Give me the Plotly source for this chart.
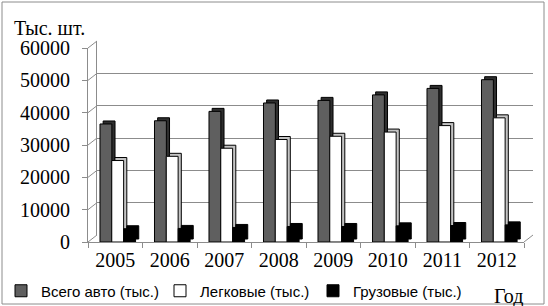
import plotly.graph_objects as go

years = ["2005", "2006", "2007", "2008", "2009", "2010", "2011", "2012"]
total = [36500, 37500, 40400, 43000, 43800, 45500, 47500, 50200]
cars = [25200, 26500, 29000, 31700, 32700, 34000, 36000, 38400]
trucks = [4100, 4200, 4500, 4800, 4800, 5000, 5100, 5300]
yticks = [0, 10000, 20000, 30000, 40000, 50000, 60000]
names = ["Всего авто (тыс.)", "Легковые (тыс.)", "Грузовые (тыс.)"]

W, H = 548, 306
L, R, T, B = 88, 15, 41, 64
pw, ph = W - L - R, H - T - B
DX_PX, DY_PX = 9, 7          # back wall depth in pixels
FRONT_W, FRONT_H = pw - DX_PX, ph - DY_PX
YMAX = 60000

def px(x):
    return (x - L) / pw

def py(y):
    return (H - B - y) / ph

# 3D look: bar width / offsets in category units, depth of bar side faces
BW = 0.218
OFFS = [-0.28, -0.064, 0.155]
BDX = 0.058
BDY = 3 / FRONT_H * YMAX
faces = ["#5f5f5f", "#ffffff", "#000000"]
sides = ["#2e2e2e", "#c4c4c4", "#000000"]
legend_ids = ["legend", "legend2", "legend3"]

fig = go.Figure()
# invisible trace to make the back wall subplot exist
fig.add_scatter(x=[None], y=[None], xaxis="x", yaxis="y", showlegend=False, hoverinfo="skip")

for vals, name, face, side, off, lg in zip([total, cars, trucks], names, faces, sides, OFFS, legend_ids):
    fig.add_bar(x=years, y=vals, base=BDY, offset=off + BDX, width=BW,
                xaxis="x2", yaxis="y2", showlegend=False, hoverinfo="skip",
                marker=dict(color=side, line=dict(color="#000000", width=1)))
    fig.add_bar(x=years, y=vals, offset=off, width=BW, name=name,
                xaxis="x2", yaxis="y2", legend=lg,
                marker=dict(color=face, line=dict(color="#000000", width=1)))

shapes = [
    dict(type="rect", xref="paper", yref="paper", x0=px(2), x1=px(544),
         y0=py(2), y1=py(304), line=dict(color="#8c8c8c", width=1),
         fillcolor="rgba(0,0,0,0)", layer="below"),
]
# slanted connectors from the front axis to the back wall
for v in yticks:
    fy = (H - B) - v / YMAX * FRONT_H
    shapes.append(dict(type="line", xref="paper", yref="paper",
                       x0=px(L), y0=py(fy), x1=px(L + DX_PX), y1=py(fy - DY_PX),
                       line=dict(color="#8c8c8c", width=1)))
shapes.append(dict(type="line", xref="paper", yref="paper",
                   x0=px(L + FRONT_W), y0=py(H - B), x1=px(W - R), y1=py(H - B - DY_PX),
                   line=dict(color="#8c8c8c", width=1)))

leg_common = dict(orientation="h", xref="container", yref="container",
                  y=(H - 291) / H, xanchor="left", yanchor="middle",
                  font=dict(family="Liberation Sans", size=15, color="#000000"),
                  itemwidth=30, bgcolor="rgba(0,0,0,0)")

fig.update_layout(
    width=W, height=H,
    margin=dict(l=L, r=R, t=T, b=B, autoexpand=False),
    paper_bgcolor="#ffffff", plot_bgcolor="rgba(0,0,0,0)",
    barmode="overlay",
    showlegend=True,
    legend=dict(x=1 / W, **leg_common),
    legend2=dict(x=160 / W, **leg_common),
    legend3=dict(x=313 / W, **leg_common),
    font=dict(family="Liberation Serif", color="#000000"),
    # back wall (grid)
    xaxis=dict(domain=[DX_PX / pw, 1], range=[0, 1], visible=False, anchor="y"),
    yaxis=dict(domain=[DY_PX / ph, 1], range=[0, YMAX], tickvals=yticks,
               showticklabels=False, ticks="", showgrid=True, gridcolor="#8c8c8c",
               gridwidth=1, zeroline=False, showline=True, linecolor="#8c8c8c",
               anchor="x", automargin=False),
    # front (bars, labels)
    xaxis2=dict(domain=[0, FRONT_W / pw], anchor="y2", type="category",
                showline=True, linecolor="#8c8c8c", linewidth=1,
                ticks="outside", tickson="boundaries", ticklen=5, tickcolor="#8c8c8c",
                tickfont=dict(family="Liberation Serif", size=20, color="#000000"),
                showgrid=False, automargin=False),
    yaxis2=dict(domain=[0, FRONT_H / ph], anchor="x2", range=[0, YMAX],
                tickvals=yticks, ticktext=[str(v) for v in yticks],
                showline=True, linecolor="#8c8c8c", linewidth=1,
                ticks="outside", ticklen=5, tickcolor="#8c8c8c",
                showgrid=False, zeroline=False, automargin=False, ticklabelstandoff=8,
                tickfont=dict(family="Liberation Serif", size=20, color="#000000")),
    annotations=[
        dict(text="Тыс. шт.", xref="paper", yref="paper", x=px(12), y=py(28),
             xanchor="left", yanchor="middle", showarrow=False,
             font=dict(family="Liberation Serif", size=20, color="#000000")),
        dict(text="Год", xref="paper", yref="paper", x=px(492), y=py(296),
             xanchor="left", yanchor="middle", showarrow=False,
             font=dict(family="Liberation Serif", size=20, color="#000000")),
    ],
    shapes=shapes,
)

fig.write_html("out.html", config={"displayModeBar": False},
               post_script="document.body.style.margin='0px';")
